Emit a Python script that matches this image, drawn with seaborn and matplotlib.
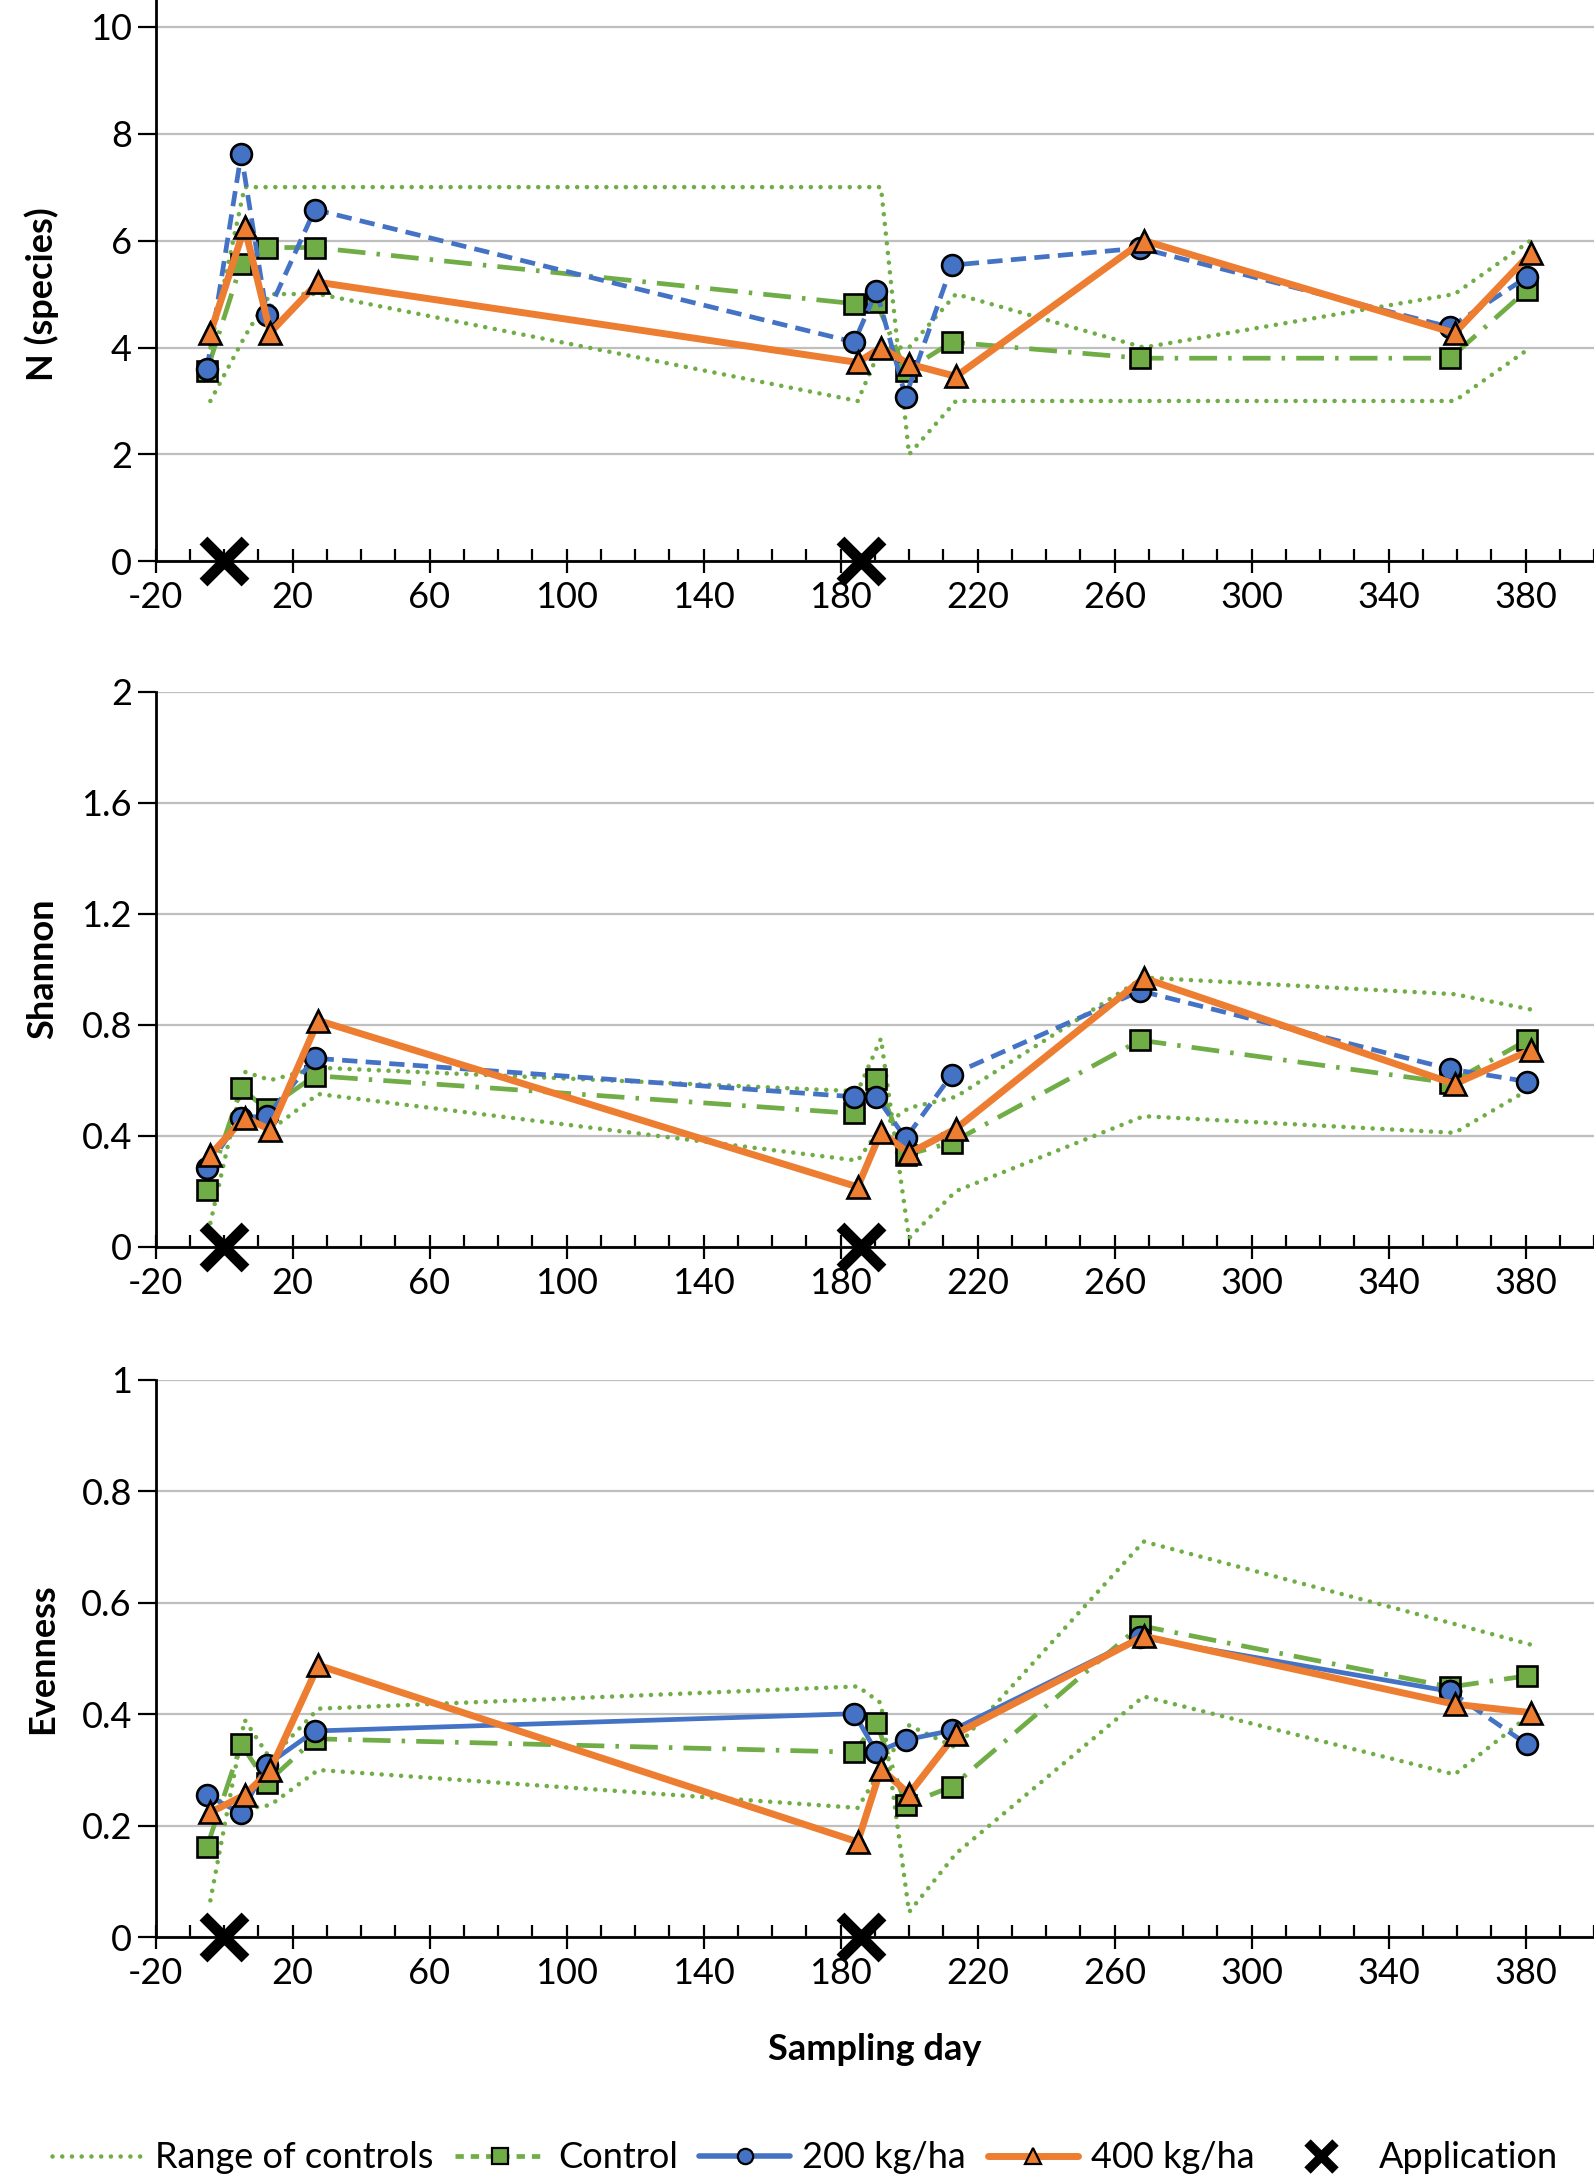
import matplotlib
matplotlib.use("Agg")
import matplotlib.pyplot as plt
import seaborn as sns
import numpy as np
import pandas as pd
from matplotlib.lines import Line2D
from matplotlib.ticker import FixedLocator, MultipleLocator

# ---------------- data ----------------
days_a = [-5, 5, 12.5, 26.5, 184, 190.5, 199, 212.5, 267.5, 358, 380.5]      # Control, 200 kg/ha
days_b = [-4, 6, 13.5, 27.5, 185, 191.8, 200, 213.7, 268.5, 359.3, 381.5]   # 400 kg/ha, range
app_days = [0, 186]
app_vals = [0, 0]

n_control = [3.56, 5.56, 5.87, 5.87, 4.82, 4.85, 3.56, 4.10, 3.80, 3.80, 5.08]
n_200 = [3.59, 7.62, 4.61, 6.58, 4.10, 5.06, 3.08, 5.54, 5.86, 4.38, 5.32]
n_400 = [4.27, 6.25, 4.28, 5.22, 3.72, 4.00, 3.69, 3.46, 6.00, 4.27, 5.76]
n_range_a = [4, 7, 7, 7, 7, 7, 2, 3, 3, 3, 4]
n_range_b = [3, 4.2, 5, 5, 3, 4, 4, 5, 4, 5, 6]

sh_control = [0.204, 0.570, 0.495, 0.616, 0.480, 0.605, 0.330, 0.375, 0.744, 0.590, 0.744]
sh_200 = [0.284, 0.465, 0.471, 0.679, 0.540, 0.540, 0.390, 0.620, 0.922, 0.640, 0.595]
sh_400 = [0.331, 0.465, 0.421, 0.815, 0.215, 0.413, 0.336, 0.425, 0.968, 0.586, 0.708]
sh_range_a = [0.085, 0.63, 0.60, 0.645, 0.56, 0.75, 0.03, 0.20, 0.47, 0.41, 0.57]
sh_range_b = [0.33, 0.45, 0.42, 0.55, 0.31, 0.43, 0.50, 0.54, 0.97, 0.91, 0.855]

ev_control = [0.162, 0.346, 0.277, 0.356, 0.332, 0.385, 0.238, 0.270, 0.559, 0.449, 0.469]
ev_200 = [0.255, 0.222, 0.309, 0.370, 0.401, 0.332, 0.354, 0.371, 0.538, 0.441, 0.346]
ev_400 = [0.224, 0.255, 0.300, 0.488, 0.171, 0.302, 0.257, 0.365, 0.540, 0.418, 0.403]
ev_range_a = [0.066, 0.39, 0.32, 0.41, 0.45, 0.42, 0.045, 0.15, 0.432, 0.292, 0.40]
ev_range_b = [0.25, 0.23, 0.237, 0.30, 0.232, 0.30, 0.38, 0.34, 0.71, 0.562, 0.525]

x_ticks = [-20, 20, 60, 100, 140, 180, 220, 260, 300, 340, 380]
x_ticklabels = ["-20", "20", "60", "100", "140", "180", "220", "260", "300", "340", "380"]
n_ticks = [0, 2, 4, 6, 8, 10]
n_ticklabels = ["0", "2", "4", "6", "8", "10"]
sh_ticks = [0, 0.4, 0.8, 1.2, 1.6, 2.0]
sh_ticklabels = ["0", "0.4", "0.8", "1.2", "1.6", "2"]
ev_ticks = [0, 0.2, 0.4, 0.6, 0.8, 1.0]
ev_ticklabels = ["0", "0.2", "0.4", "0.6", "0.8", "1"]

legend_labels = ["Range of controls", "Control", "200 kg/ha", "400 kg/ha", "Application"]

# ---------------- style ----------------
sns.set_theme(style="ticks")
plt.rcParams["font.family"] = ["Lato", "DejaVu Sans"]
plt.rcParams["lines.scale_dashes"] = False
plt.rcParams["axes.unicode_minus"] = False

GREEN = "#70AD47"
BLUE = "#4472C4"
ORANGE = "#ED7D31"
FS = 26

DOT = (0, (0.01, 7.0))
DASH = (0, (11, 6))
DASHDOT = (0, (20, 8, 2.5, 8))

fig = plt.figure(figsize=(15.94, 21.8), dpi=100)
left, width = 0.0976, 0.9024
ax1 = fig.add_axes([left, 0.7425, width, 1 - 0.7425])
ax2 = fig.add_axes([left, 0.4282, width, 0.6826 - 0.4282])
ax3 = fig.add_axes([left, 0.1114, width, 0.367 - 0.1114])


def draw_panel(ax, ra, rb, ctrl, v200, v400, ylim, yticks, ylabels, ylabel,
               blue_segments, label_y):
    dot_kw = dict(color=GREEN, lw=3.3, linestyle=DOT, dash_capstyle="round",
                  zorder=2, legend=False, sort=False)
    sns.lineplot(x=days_b, y=ra, ax=ax, **dot_kw)
    sns.lineplot(x=days_b, y=rb, ax=ax, **dot_kw)
    sns.lineplot(x=days_a, y=ctrl, ax=ax, color=GREEN, lw=3.4, linestyle=DASHDOT,
                 marker="s", ms=14, mfc=GREEN, mec="black", mew=1.9,
                 zorder=3, legend=False, sort=False)
    for (i0, i1, ls) in blue_segments:
        sns.lineplot(x=days_a[i0:i1 + 1], y=v200[i0:i1 + 1], ax=ax, color=BLUE, lw=3.4,
                     linestyle=ls, marker="o", ms=15, mfc=BLUE, mec="black", mew=1.9,
                     zorder=4, legend=False, sort=False)
    sns.lineplot(x=days_b, y=v400, ax=ax, color=ORANGE, lw=5.0, linestyle="-",
                 marker="^", ms=16, mfc=ORANGE, mec="black", mew=1.9,
                 zorder=5, legend=False, sort=False)
    sns.lineplot(x=app_days, y=app_vals, ax=ax, color="black", linestyle="",
                 marker="x", ms=30, mew=8, mec="black", mfc="black",
                 clip_on=False, zorder=6, legend=False, sort=False)

    ax.set_xlim(-20, 400)
    ax.set_ylim(*ylim)
    ax.xaxis.set_major_locator(FixedLocator(x_ticks))
    ax.set_xticklabels(x_ticklabels)
    ax.xaxis.set_minor_locator(MultipleLocator(10))
    ax.yaxis.set_major_locator(FixedLocator(yticks))
    ax.set_yticklabels(ylabels)
    ax.tick_params(axis="x", which="major", direction="inout", length=17, width=1.6,
                   labelsize=FS, pad=6, colors="black")
    ax.tick_params(axis="x", which="minor", direction="in", length=8.5, width=1.6,
                   colors="black")
    ax.tick_params(axis="y", which="major", direction="out", length=13, width=1.6,
                   labelsize=FS, pad=4, colors="black")
    ax.grid(axis="y", color="#BFBFBF", lw=1.6)
    ax.set_axisbelow(True)
    for s in ["top", "right"]:
        ax.spines[s].set_visible(False)
    for s in ["left", "bottom"]:
        ax.spines[s].set_linewidth(2.0)
        ax.spines[s].set_color("black")
    ax.set_xlabel("")
    ax.set_ylabel(ylabel, fontsize=FS, fontweight="bold", color="black")
    ax.yaxis.set_label_coords(-0.067, label_y)


draw_panel(ax1, n_range_a, n_range_b, n_control, n_200, n_400, (0, 10.5),
           n_ticks, n_ticklabels, "N (species)", [(0, 10, DASH)], 5 / 10.5)
draw_panel(ax2, sh_range_a, sh_range_b, sh_control, sh_200, sh_400, (0, 2.0),
           sh_ticks, sh_ticklabels, "Shannon", [(0, 10, DASH)], 0.5)
draw_panel(ax3, ev_range_a, ev_range_b, ev_control, ev_200, ev_400, (0, 1.0),
           ev_ticks, ev_ticklabels, "Evenness", [(0, 9, "-"), (9, 10, DASH)], 0.5)

fig.text(0.549, 1 - 2050 / 2180, "Sampling day", ha="center", va="center",
         fontsize=FS, fontweight="bold", color="black")

handles = [
    Line2D([], [], color=GREEN, lw=3.3, linestyle=DOT, dash_capstyle="round"),
    Line2D([], [], color=GREEN, lw=3.4, linestyle=(0, (6, 5)), marker="s", ms=11,
           mfc=GREEN, mec="black", mew=1.6),
    Line2D([], [], color=BLUE, lw=4.0, marker="o", ms=11, mfc=BLUE, mec="black", mew=1.6),
    Line2D([], [], color=ORANGE, lw=5.0, marker="^", ms=11, mfc=ORANGE, mec="black", mew=1.6),
    Line2D([], [], color="black", linestyle="", marker="x", ms=20, mew=6.5),
]
fig.legend(handles, legend_labels, loc="center", bbox_to_anchor=(0.505, 0.0101),
           ncol=5, frameon=False, fontsize=FS, handlelength=2.5, handletextpad=0.35,
           columnspacing=0.6, labelcolor="black")

fig.savefig("out.png", dpi=100, facecolor="white")
